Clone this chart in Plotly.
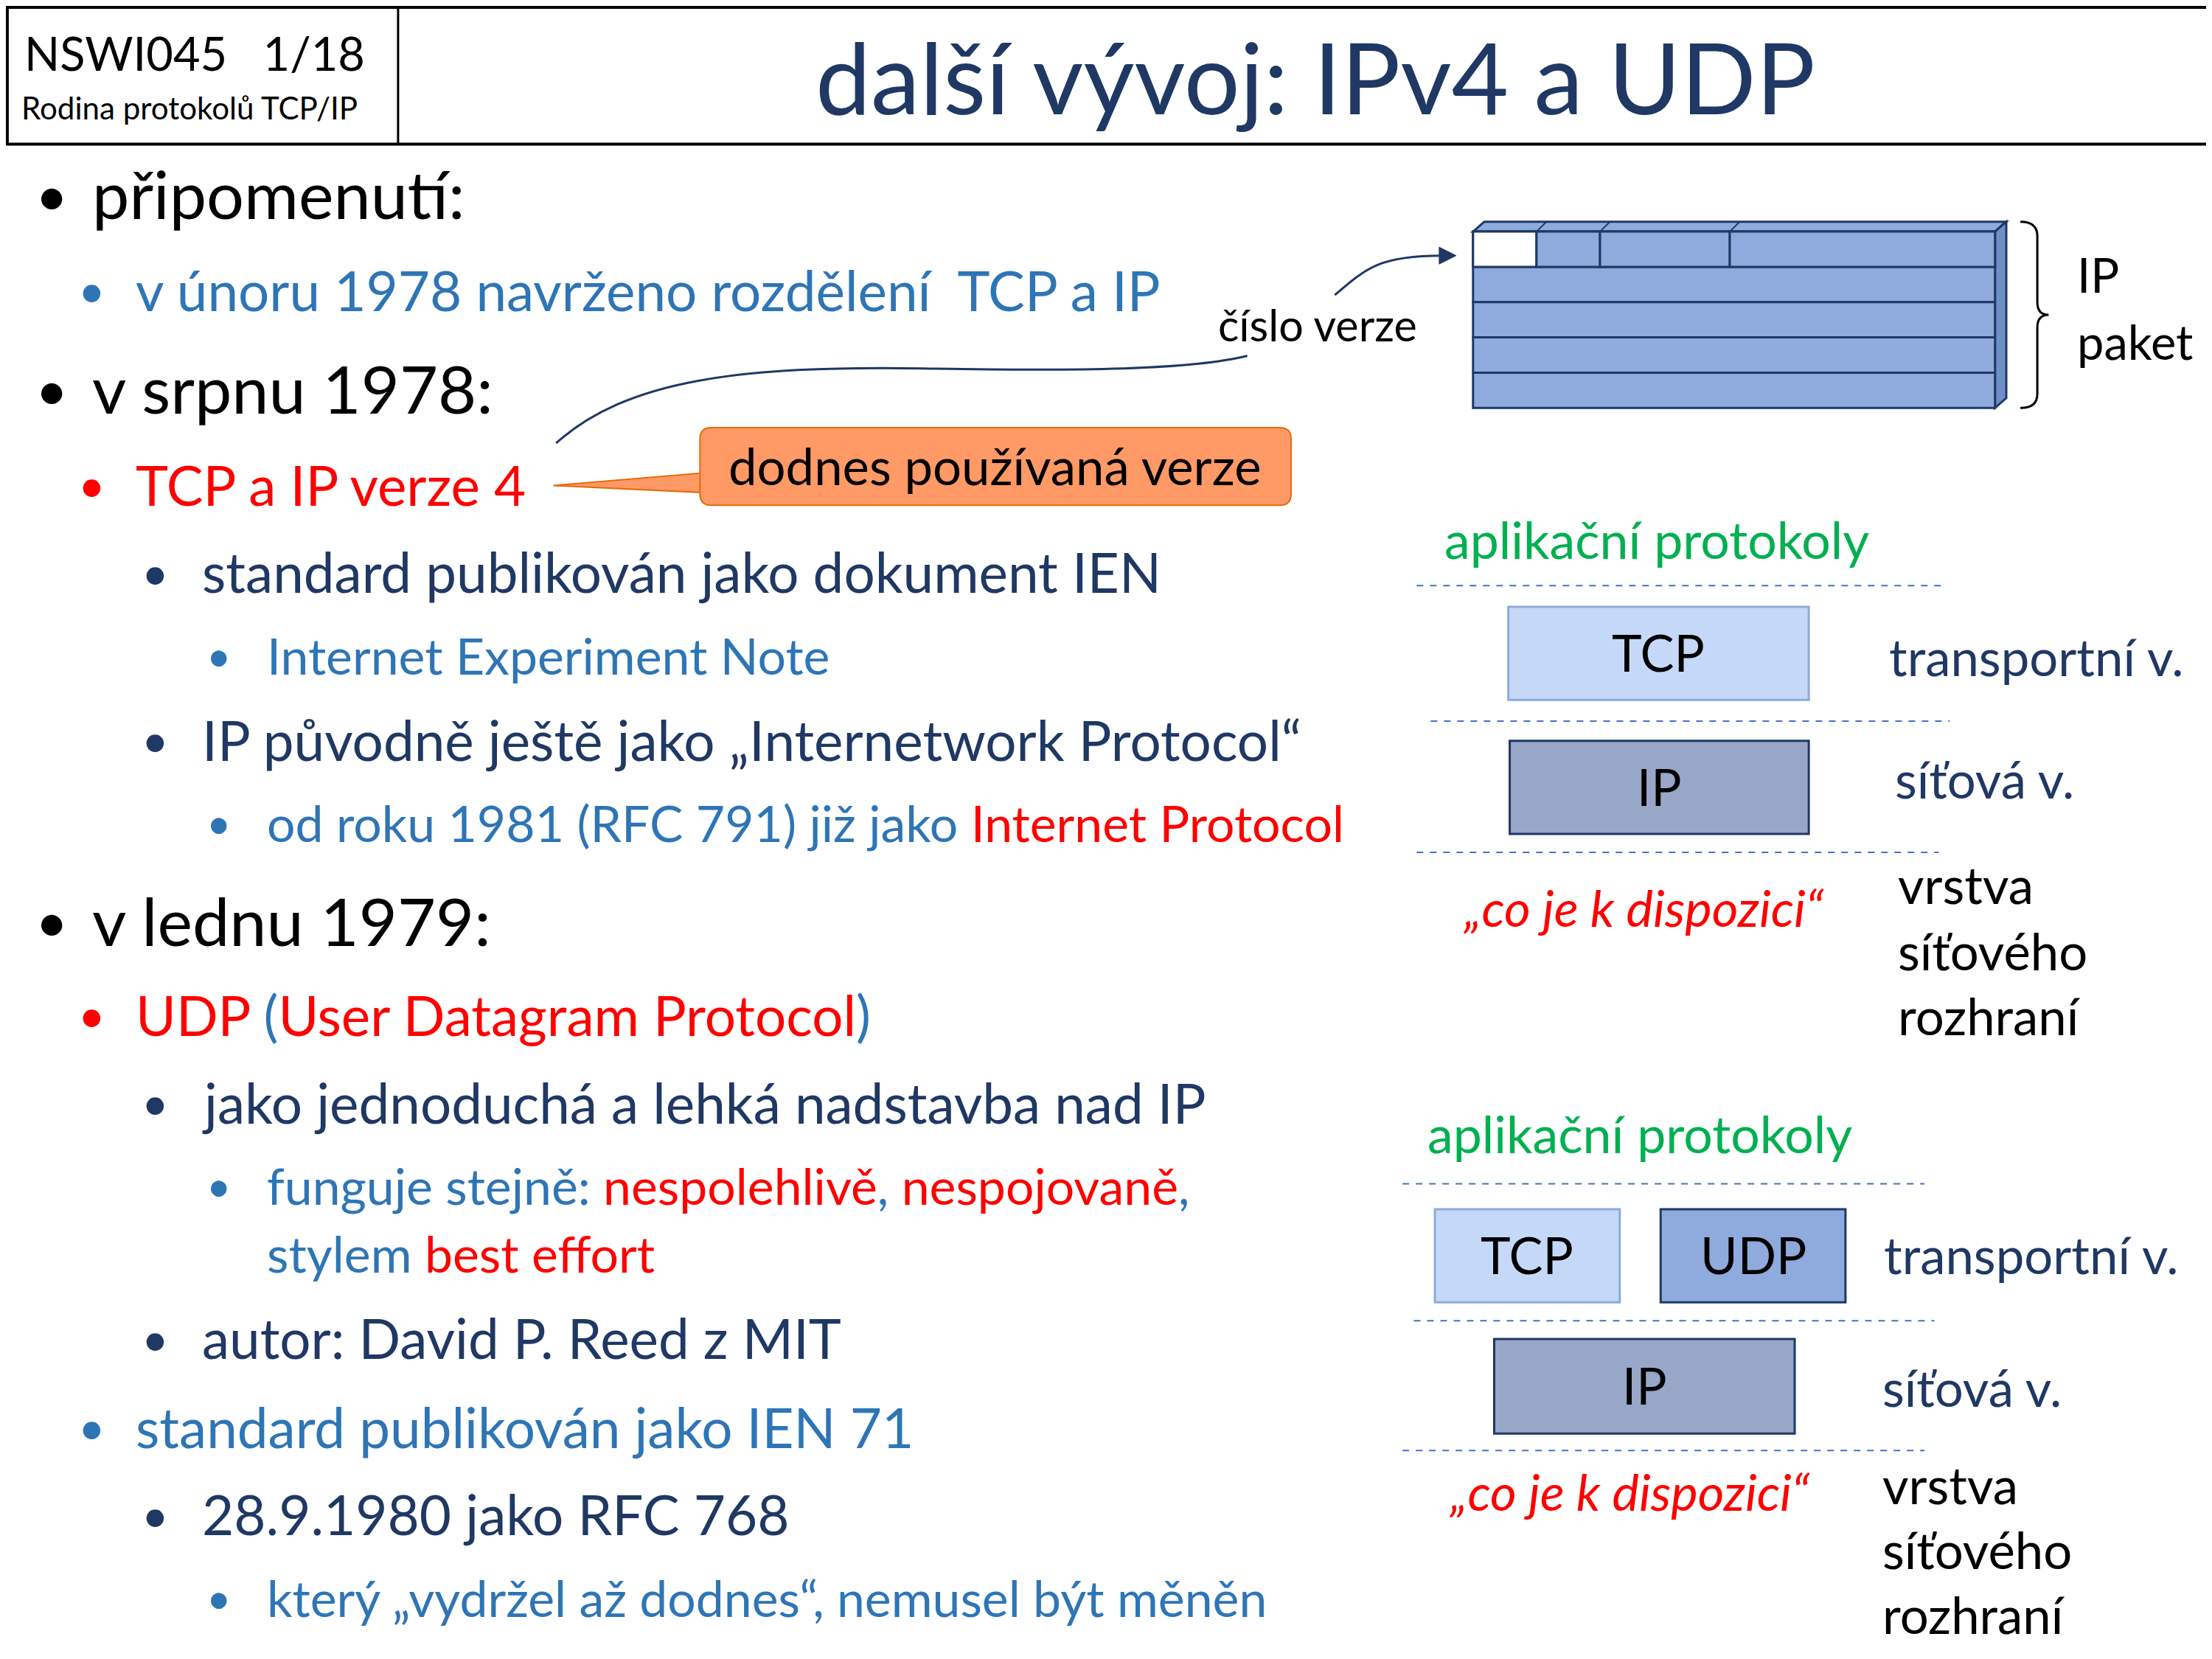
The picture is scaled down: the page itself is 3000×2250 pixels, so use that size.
import plotly.graph_objects as go

W, H = 1568, 1176
S = 3000 / W
FONT = "Lato"

BLACK = "#000000"
NAVY = "#1f3864"
BLUE = "#2e75b6"
RED = "#ff0000"
GREEN = "#00b050"

# bullet lines: (bullet x, text x, y, size, bullet colour, text colour, text)
bullet_x = [20, 50, 20, 50, 95, 141, 95, 141, 20, 50, 95, 141, None, 95, 50, 95, 141]
text_x = [60, 91, 60, 91, 138, 184, 138, 184, 60, 91, 138, 184, 184, 138, 91, 138, 184]
text_y = [133, 201, 271, 339, 401, 460, 520, 579, 648, 715, 777, 836, 884, 944, 1007, 1069, 1128]
text_size = [47, 39, 47, 39, 39, 35.5, 39, 35.5, 47, 39, 39, 35.5, 35.5, 39, 39, 39, 35.5]
bullet_col = [BLACK, BLUE, BLACK, RED, NAVY, BLUE, NAVY, BLUE, BLACK, RED, NAVY, BLUE, None, NAVY, BLUE, NAVY, BLUE]
text_col = [BLACK, BLUE, BLACK, RED, NAVY, BLUE, NAVY, BLUE, BLACK, RED, NAVY, BLUE, BLUE, NAVY, BLUE, NAVY, BLUE]
texts = [
    "připomenutí:",
    "v únoru 1978 navrženo rozdělení  TCP a IP",
    "v srpnu 1978:",
    "TCP a IP verze 4",
    "standard publikován jako dokument IEN",
    "Internet Experiment Note",
    "IP původně ještě jako „Internetwork Protocol“",
    f"od roku 1981 (RFC 791) již jako <span style='color:{RED}'>Internet Protocol</span>",
    "v lednu 1979:",
    f"UDP <span style='color:{BLUE}'>(</span>User Datagram Protocol<span style='color:{BLUE}'>)</span>",
    "jako jednoduchá a lehká nadstavba nad IP",
    f"funguje stejně: <span style='color:{RED}'>nespolehlivě</span>, <span style='color:{RED}'>nespojovaně</span>,",
    f"stylem <span style='color:{RED}'>best effort</span>",
    "autor: David P. Reed z MIT",
    "standard publikován jako IEN 71",
    "28.9.1980 jako RFC 768",
    "který „vydržel až dodnes“, nemusel být měněn",
]

# protocol stack diagrams
stack_top = [378, 799]
boxes = [
    # (x0, y0, x1, y1, fill, line, label)
    (1065, 426, 1278, 492, "#c5d8f7", "#8faadc", "TCP"),
    (1066, 521, 1278, 587, "#98a6c8", NAVY, "IP"),
    (1013, 853, 1144, 919, "#c5d8f7", "#8faadc", "TCP"),
    (1173, 853, 1304, 919, "#8faadc", NAVY, "UDP"),
    (1055, 945, 1268, 1012, "#98a6c8", NAVY, "IP"),
]
dashes = [(1000, 1372, 411), (1010, 1378, 507), (1000, 1370, 600),
          (990, 1360, 835), (998, 1367, 932), (990, 1360, 1024)]
side_labels = [
    (1334, 461, "transportní v.", NAVY), (1338, 548, "síťová v.", NAVY),
    (1340, 623, "vrstva", BLACK), (1340, 670, "síťového", BLACK), (1340, 716, "rozhraní", BLACK),
    (1330, 885, "transportní v.", NAVY), (1329, 979, "síťová v.", NAVY),
    (1329, 1048, "vrstva", BLACK), (1329, 1094, "síťového", BLACK), (1329, 1140, "rozhraní", BLACK),
]
dispozici = [(1161, 639), (1151, 1053)]
green_x = [1170, 1158]

# packet rows
packet_rows = [160, 185, 210, 235, 260, 285]
first_row_cells = [1040, 1085, 1130, 1222, 1410]

fig = go.Figure()
shapes = []
ann = []


def text(x, y, s, size, color, anchor="left", italic=False):
    if italic:
        s = f"<i>{s}</i>"
    ann.append(dict(x=x, y=y, text=s, showarrow=False, xanchor=anchor, yanchor="middle",
                    font=dict(family=FONT, size=size * S, color=color)))


# header
shapes.append(dict(type="rect", x0=1, y0=1, x1=W - 1, y1=98, line=dict(color=BLACK, width=4)))
shapes.append(dict(type="line", x0=278, y0=0, x1=278, y1=98, line=dict(color=BLACK, width=3)))
text(12, 33, "NSWI045   1/18", 33, BLACK)
text(10, 72, "Rodina protokolů TCP/IP", 22, BLACK)
text(928, 50, "další vývoj: IPv4 a UDP", 70, NAVY, anchor="center")

for bx, tx, ty, sz, bc, tc, t in zip(bullet_x, text_x, text_y, text_size, bullet_col, text_col, texts):
    if bx is not None:
        text(bx, ty, "•", sz * 0.85, bc)
    text(tx, ty, t, sz, tc)

# callout
shapes.append(dict(type="path", path="M 388 340 L 495 331 L 495 345 Z",
                   fillcolor="#ff9966", line=dict(color="#e46c0a", width=2)))
shapes.append(dict(type="path",
                   path="M 500 299 L 903 299 Q 911 299 911 307 L 911 346 Q 911 354 903 354 "
                        "L 500 354 Q 492 354 492 346 L 492 307 Q 492 299 500 299 Z",
                   fillcolor="#ff9966", line=dict(color="#e46c0a", width=2)))
text(701, 326, "dodnes používaná verze", 36, BLACK, anchor="center")

# curve from version 4 to "číslo verze"
shapes.append(dict(type="path", path="M 390 310 C 440 265, 520 255, 650 257 C 760 259, 840 258, 880 248",
                   line=dict(color=NAVY, width=3)))
text(930, 226, "číslo verze", 31, BLACK, anchor="center")
shapes.append(dict(type="path", path="M 942 205 C 965 185, 975 177, 1018 177",
                   line=dict(color=NAVY, width=3)))
shapes.append(dict(type="path", path="M 1028 177 L 1016 171 L 1016 183 Z",
                   fillcolor=NAVY, line=dict(color=NAVY, width=1)))

# packet
shapes.append(dict(type="path", path="M 1040 160 L 1048 153 L 1418 153 L 1410 160 Z",
                   fillcolor="#8faadc", line=dict(color=NAVY, width=3)))
shapes.append(dict(type="path", path="M 1410 160 L 1418 153 L 1418 278 L 1410 285 Z",
                   fillcolor="#6f8fcc", line=dict(color=NAVY, width=3)))
for y0, y1 in zip(packet_rows[:-1], packet_rows[1:]):
    shapes.append(dict(type="rect", x0=1040, y0=y0, x1=1410, y1=y1,
                       fillcolor="#8faadc", line=dict(color=NAVY, width=3)))
for i, (x0, x1) in enumerate(zip(first_row_cells[:-1], first_row_cells[1:])):
    shapes.append(dict(type="rect", x0=x0, y0=160, x1=x1, y1=185,
                       fillcolor="white" if i == 0 else "#8faadc", line=dict(color=NAVY, width=3)))
    shapes.append(dict(type="line", x0=x1, y0=160, x1=x1 + 7, y1=153, line=dict(color=NAVY, width=2)))
shapes.append(dict(type="path",
                   path="M 1428 153 Q 1440 153 1440 163 L 1440 210 Q 1440 219 1448 219 "
                        "Q 1440 219 1440 228 L 1440 275 Q 1440 285 1428 285",
                   line=dict(color=BLACK, width=3)))
text(1467, 190, "IP", 34, BLACK)
text(1467, 238, "paket", 34, BLACK)

# stacks
for gx, gy in zip(green_x, stack_top):
    text(gx, gy, "aplikační protokoly", 36.5, GREEN, anchor="center")
for x0, x1, y in dashes:
    shapes.append(dict(type="line", x0=x0, y0=y, x1=x1, y1=y,
                       line=dict(color="#4472c4", width=2, dash="dash")))
for x0, y0, x1, y1, fc, lc, lab in boxes:
    shapes.append(dict(type="rect", x0=x0, y0=y0, x1=x1, y1=y1, fillcolor=fc, line=dict(color=lc, width=3)))
    text((x0 + x1) / 2, (y0 + y1) / 2 - 1, lab, 36, BLACK, anchor="center")
for x, y, s, c in side_labels:
    text(x, y, s, 36, c)
for x, y in dispozici:
    text(x, y, "„co je k dispozici“", 36, RED, anchor="center", italic=True)

fig.update_layout(
    width=3000, height=2250, margin=dict(l=0, r=0, t=0, b=0),
    paper_bgcolor="white", plot_bgcolor="white",
    xaxis=dict(range=[0, W], visible=False, fixedrange=True),
    yaxis=dict(range=[H, 0], visible=False, fixedrange=True),
    shapes=shapes, annotations=ann, showlegend=False,
)
fig.write_html("out.html")
